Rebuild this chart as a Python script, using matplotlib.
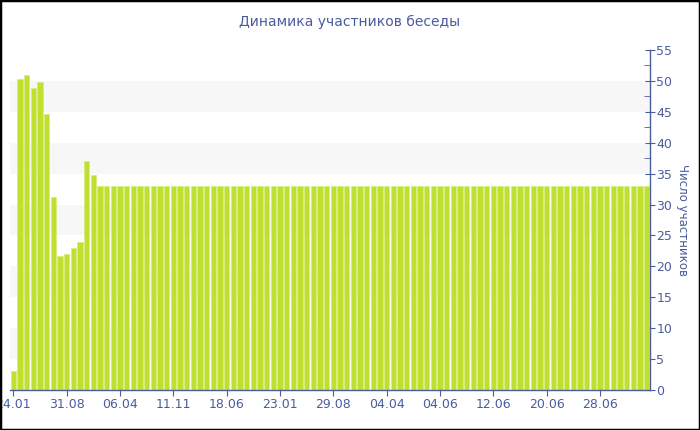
import matplotlib
matplotlib.use("Agg")
import matplotlib.pyplot as plt
from matplotlib.patches import Rectangle

title = "Динамика участников беседы"
ylabel = "Число участников"

members = [3, 50.3, 51, 48.8, 49.8, 44.7, 31.3, 21.7, 22, 23, 24, 37, 34.7,
           33, 33, 33, 33, 33, 33, 33, 33, 33, 33, 33, 33, 33, 33, 33, 33, 33,
           33, 33, 33, 33, 33, 33, 33, 33, 33, 33, 33, 33, 33, 33, 33, 33, 33,
           33, 33, 33, 33, 33, 33, 33, 33, 33, 33, 33, 33, 33, 33, 33, 33, 33,
           33, 33, 33, 33, 33, 33, 33, 33, 33, 33, 33, 33, 33, 33, 33, 33, 33,
           33, 33, 33, 33, 33, 33, 33, 33, 33, 33, 33, 33, 33, 33, 33]
tick_labels = ["24.01", "31.08", "06.04", "11.11", "18.06", "23.01",
               "29.08", "04.04", "04.06", "12.06", "20.06", "28.06"]
tick_step = 8
band_ranges = [(5, 10), (15, 20), (25, 30), (35, 40), (45, 50)]

blue = "#4a5c9e"
bar_color = "#bfe02e"

fig = plt.figure(figsize=(7, 4.3), dpi=100)
ax = fig.add_axes([10/700, 1-390/430, 640/700, 340/430])

x = list(range(len(members)))
for lo, hi in band_ranges:
    ax.axhspan(lo, hi, color="#f7f7f7", zorder=0, lw=0)
ax.bar(x, members, width=0.78, color=bar_color, edgecolor="#d6ee84",
       linewidth=0.6, zorder=2)

ax.set_xlim(-0.5, len(members) - 0.5)
ax.set_ylim(0, 55)

ax.yaxis.tick_right()
ax.yaxis.set_label_position("right")
ax.set_yticks(range(0, 56, 5))
ax.set_yticks([v + 2.5 for v in range(0, 55, 5)], minor=True)
ax.tick_params(axis="y", which="major", direction="inout", length=7,
               color=blue, labelcolor=blue, labelsize=9, pad=1)
ax.tick_params(axis="y", which="minor", direction="in", length=4, color=blue)
ax.set_ylabel(ylabel, rotation=-90, color=blue, fontsize=8.5, labelpad=12)

ax.set_xticks([i * tick_step for i in range(len(tick_labels))])
ax.set_xticklabels(tick_labels)
ax.tick_params(axis="x", direction="out", length=4, color=blue,
               labelcolor=blue, labelsize=9, pad=2)

for s in ["top", "left"]:
    ax.spines[s].set_visible(False)
for s in ["bottom", "right"]:
    ax.spines[s].set_color(blue)
    ax.spines[s].set_linewidth(1)

fig.text(0.5, 1-22/430, title, ha="center", va="center", color=blue, fontsize=10)

fig.patches.append(Rectangle((0, 0), 1, 1, transform=fig.transFigure,
                             fill=False, edgecolor="black", linewidth=2.5))

fig.savefig("out.png", dpi=100)
